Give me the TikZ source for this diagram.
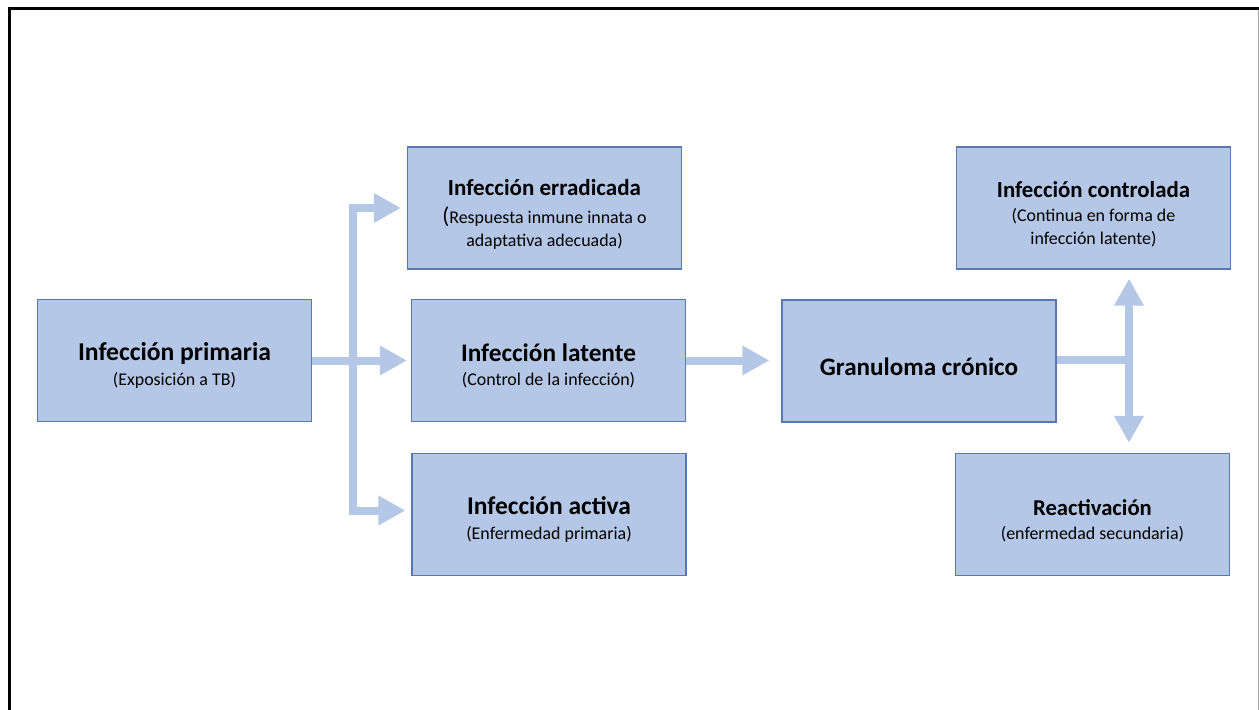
\documentclass[tikz,border=0pt]{standalone}
\usepackage{fontspec}
\setmainfont{Carlito}
\usepackage{tikz}
\usetikzlibrary{arrows.meta,positioning,calc}

\definecolor{boxfill}{HTML}{B4C7E7}
\definecolor{boxline}{HTML}{5878AF}
\definecolor{flowblue}{HTML}{B4C7E7}

\newcommand{\stagetitle}[2]{{\fontsize{#1}{16}\selectfont\bfseries\rule{0pt}{16pt}#2}}
\newcommand{\stagenote}[1]{{\fontsize{10.2}{13}\selectfont #1}}

\tikzset{
    stage/.style={draw=boxline, line width=0.75pt, fill=boxfill, minimum width=5.48cm,
        minimum height=2.44cm, align=center, inner sep=0pt, font=\fontsize{10.2}{13}\selectfont},
    flow/.style={draw=flowblue, line width=0.16cm, -{Triangle[length=0.54cm,width=0.56cm]}},
    bar/.style={draw=flowblue, line width=0.16cm}
}

\begin{document}
\begin{tikzpicture}[x=0.02cm, y=-0.02cm]
    \useasboundingbox (0,0) rectangle (1259,710);

    % Frame
    \draw[black, line width=0.07cm] (9.5,710) -- (9.5,8.5) -- (1259,8.5);
    \draw[black!35, line width=0.02cm] (1258,10) -- (1258,710);

    % Boxes
    \node[stage] (primaria) at (174.5,360.5)
        {\stagetitle{14.6}{Infección primaria}\\[1pt]\stagenote{(Exposición a TB)}};
    \node[stage] (erradicada) at (544.5,208)
        {\stagetitle{13.1}{Infección erradicada}\\[3pt]
         \stagenote{{\fontsize{13}{13}\selectfont(}Respuesta inmune innata o}\\\stagenote{adaptativa adecuada)}};
    \node[stage] (latente) at (548.5,360.5)
        {\stagetitle{14.4}{Infección latente}\\[1pt]\stagenote{(Control de la infección)}};
    \node[stage] (activa) at (549,514.5)
        {\stagetitle{14.5}{Infección activa}\\[1pt]\stagenote{(Enfermedad primaria)}};
    \node[stage] (granuloma) at (919,361)
        {\raisebox{-0.3cm}[0pt][0pt]{\fontsize{14.3}{16}\selectfont\bfseries Granuloma crónico}};
    \node[stage] (controlada) at (1093.5,208)
        {\stagetitle{13}{Infección controlada}\\[1pt]
         \stagenote{(Continua en forma de}\\\stagenote{infección latente)}};
    \node[stage] (reactivacion) at (1092.5,514.5)
        {\stagetitle{12.9}{Reactivación}\\[1pt]\stagenote{(enfermedad secundaria)}};

    % Branch points
    \coordinate (split) at (353,360);
    \coordinate (fork) at (1129,360);

    % Arrows on the left
    \draw[flow, shorten >=0.08cm] (primaria.east) -- (primaria.east -| latente.west);
    \draw[flow, shorten >=0.12cm] (split) |- (erradicada.west);
    \draw[flow, shorten >=0.12cm] (split) |- ([yshift=0.08cm]activa.west);

    % Middle arrow
    \draw[flow, shorten >=0.24cm] (latente.east) -- (latente.east -| granuloma.west);

    % Arrows on the right
    \draw[bar] (granuloma.east |- fork) -- (fork);
    \draw[flow, shorten >=0.18cm] (fork) -- (fork |- controlada.south);
    \draw[flow, shorten >=0.2cm] (fork) -- (fork |- reactivacion.north);
\end{tikzpicture}
\end{document}
